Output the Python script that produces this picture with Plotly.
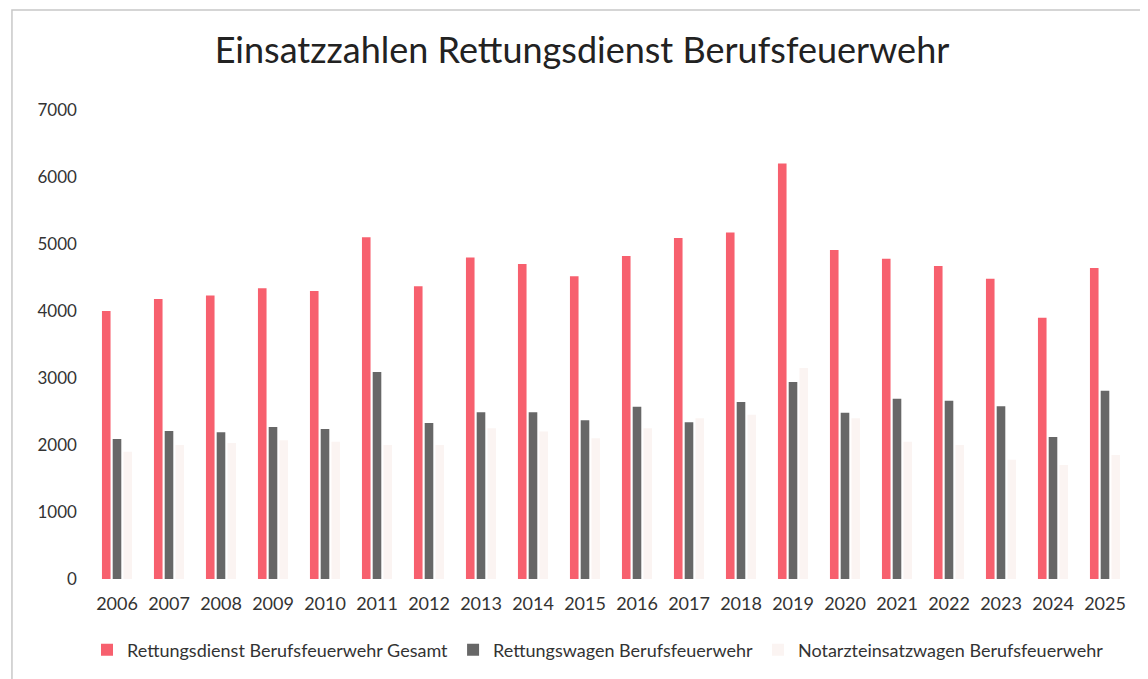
import plotly.graph_objects as go

years = [str(y) for y in range(2006, 2026)]
gesamt = [4000, 4180, 4230, 4340, 4300, 5100, 4370, 4800, 4700, 4520,
          4820, 5090, 5170, 6200, 4910, 4780, 4670, 4480, 3900, 4640]
rtw = [2090, 2210, 2190, 2270, 2240, 3090, 2330, 2490, 2490, 2370,
       2570, 2340, 2640, 2940, 2480, 2690, 2660, 2580, 2120, 2810]
nef = [1900, 2000, 2030, 2070, 2050, 2000, 2000, 2250, 2200, 2100,
       2250, 2400, 2450, 3150, 2400, 2050, 2000, 1780, 1700, 1850]

names = ["Rettungsdienst Berufsfeuerwehr Gesamt",
         "Rettungswagen Berufsfeuerwehr",
         "Notarzteinsatzwagen Berufsfeuerwehr"]
colors = ["#f7606e", "#676767", "#fbf4f2"]

fig = go.Figure()
for n, v, c in zip(names, [gesamt, rtw, nef], colors):
    fig.add_trace(go.Bar(x=years, y=v, name=n, marker_color=c, marker_line_width=0))

font = "Lato, 'DejaVu Sans', sans-serif"
fig.update_layout(
    width=1148, height=679,
    paper_bgcolor="white", plot_bgcolor="white",
    margin=dict(l=83, r=25, t=102, b=108),
    barmode="group", bargap=0.38, bargroupgap=0.2,
    title=dict(text="Einsatzzahlen Rettungsdienst Berufsfeuerwehr",
               x=0.5, xanchor="center", y=0.938, yanchor="middle",
               font=dict(family=font, size=36, color="#222222")),
    font=dict(family=font, color="#333333"),
    xaxis=dict(showgrid=False, showline=False, ticks="", ticklabelstandoff=12,
               tickfont=dict(size=18, color="#333333")),
    yaxis=dict(range=[0, 7000], dtick=1000, showgrid=False, showline=False,
               zeroline=False, ticks="", ticksuffix="   ",
               tickfont=dict(size=17, color="#333333")),
    legend=dict(orientation="h", x=0.4875, xanchor="center", y=-0.112, yanchor="top",
                font=dict(size=18, color="#333333"), itemwidth=30,
                traceorder="normal"),
    shapes=[dict(type="rect", xref="paper", yref="paper",
                 x0=-0.076, x1=1.0135, y0=-0.3, y1=1.213,
                 line=dict(color="#c8c8c8", width=1.5))],
)

fig.write_html("out.html")
